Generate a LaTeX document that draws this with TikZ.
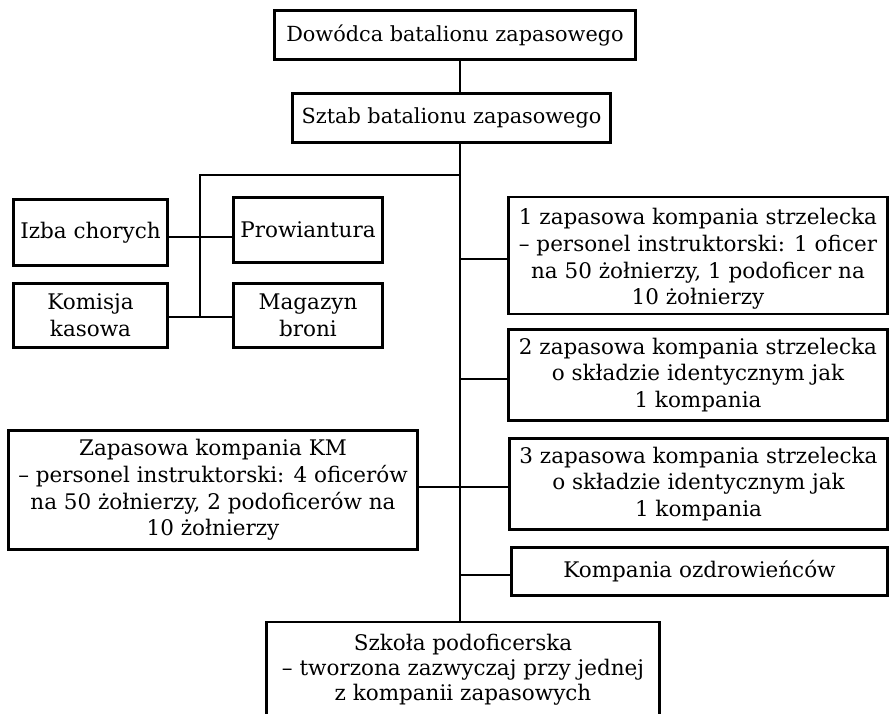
\documentclass[tikz,border=0pt]{standalone}
\usepackage{fontspec}
\setmainfont{DejaVu Serif}
\begin{document}
\begin{tikzpicture}[x=1pt,y=-1pt,
  box/.style={draw, line width=2.3pt, inner sep=0pt, align=center,
    font=\fontsize{21.5}{26.7}\selectfont},
  topbox/.style={box, font=\fontsize{20.8}{26}\selectfont},
  txt/.style={inner sep=0pt, align=center, font=\fontsize{21.5}{26.7}\selectfont},
  link/.style={line width=1.1pt}]
\useasboundingbox (0,0) rectangle (889,714);
\fill[white] (0,0) rectangle (889,714);

\node[topbox, minimum width=361pt, minimum height=49pt] (dow) at (455,35) {Dowódca batalionu zapasowego};
\node[topbox, minimum width=318pt, minimum height=49pt] (sztab) at (451.5,118) {Sztab batalionu zapasowego};

\node[box, minimum width=154pt, minimum height=66pt] (izba) at (90.5,232.5) {Izba chorych};
\node[box, minimum width=149pt, minimum height=65pt] (prow) at (308,230) {Prowiantura};
\node[box, minimum width=154pt, minimum height=64pt] (kom) at (90.5,315.5) {Komisja\\kasowa};
\node[box, minimum width=149pt, minimum height=64pt] (mag) at (308,315.5) {Magazyn\\broni};

\node[box, minimum width=379pt, minimum height=117pt] (b1) at (698,255.5) {};
\node[txt] (b1t) at (698,259) {1 zapasowa kompania strzelecka\\– personel instruktorski: 1 oficer\\na 50 żołnierzy, 1 podoficer na\\10 żołnierzy};
\node[box, minimum width=379pt, minimum height=91pt] (b2) at (698,375) {2 zapasowa kompania strzelecka\\o składzie identycznym jak\\1 kompania};
\node[box, minimum width=378pt, minimum height=91pt] (b3) at (698.5,484) {3 zapasowa kompania strzelecka\\o składzie identycznym jak\\1 kompania};
\node[box, minimum width=376pt, minimum height=48pt] (ozd) at (699.5,571.5) {Kompania ozdrowieńców};

\node[box, minimum width=409pt, minimum height=119pt] (km) at (213,490) {Zapasowa kompania KM\\– personel instruktorski: 4 oficerów\\na 50 żołnierzy, 2 podoficerów na\\10 żołnierzy};

\node[box, font=\fontsize{21.5}{25}\selectfont, minimum width=393pt, minimum height=96pt] (szk) at (463,670) {Szkoła podoficerska\\– tworzona zazwyczaj przy jednej\\z kompanii zapasowych};

% trunk
\coordinate (tx) at (460,0);
\draw[link] (dow.south -| tx) -- (sztab.north -| tx);
\draw[link] (sztab.south -| tx) -- (szk.north -| tx);

% left cluster
\coordinate (j0) at (460,175);
\coordinate (j1) at (200,175);
\coordinate (c1) at (200,237);
\coordinate (c2) at (200,317);
\draw[link] (j0) -- (j1) -- (c2);
\draw[link] (izba.east |- c1) -- (prow.west |- c1);
\draw[link] (kom.east |- c2) -- (mag.west |- c2);

% right branches
\coordinate (t1) at (460,259);
\coordinate (t2) at (460,379);
\coordinate (t3) at (460,487);
\coordinate (t4) at (460,575);
\draw[link] (t1) -- (t1 -| b1.west);
\draw[link] (t2) -- (t2 -| b2.west);
\draw[link] (km.east |- t3) -- (t3) -- (t3 -| b3.west);
\draw[link] (t4) -- (t4 -| ozd.west);
\end{tikzpicture}
\end{document}
